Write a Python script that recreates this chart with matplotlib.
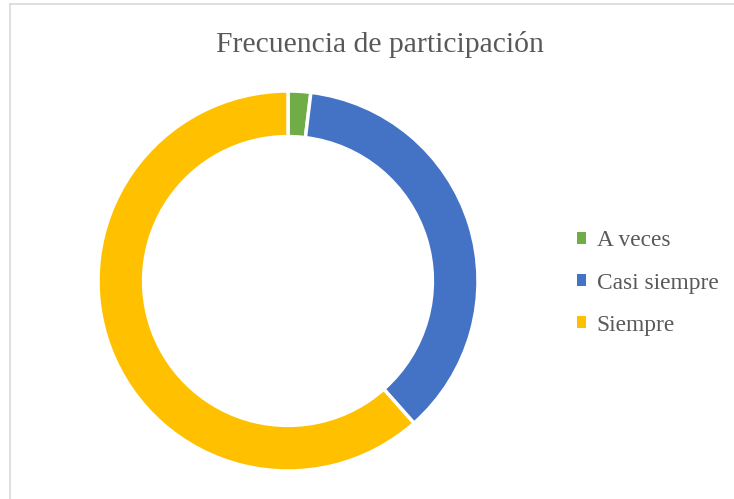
import matplotlib.pyplot as plt
from matplotlib.patches import Patch
from matplotlib.lines import Line2D

# Frecuencia de participación (estimated counts)
labels = ['A veces', 'Casi siempre', 'Siempre']
values = [1, 19, 32]
colors = ['#70AD47', '#4472C4', '#FFC000']

W, H = 734, 499
fig = plt.figure(figsize=(W / 100, H / 100), dpi=100)
fig.patch.set_facecolor('white')

# chart area border (only left and top visible in the crop)
fig.add_artist(Line2D([10 / W, 10 / W], [0, 1 - 4 / H], color='#D9D9D9', lw=1.2))
fig.add_artist(Line2D([10 / W, 1], [1 - 4 / H, 1 - 4 / H], color='#D9D9D9', lw=1.2))

cx, cy, r = 288, 281, 190
ax = fig.add_axes([(cx - r) / W, (H - cy - r) / H, 2 * r / W, 2 * r / H])
ax.pie(values, colors=colors, startangle=90, counterclock=False, radius=1,
       wedgeprops=dict(width=0.24, edgecolor='white', linewidth=2.5))
ax.set_xlim(-1, 1)
ax.set_ylim(-1, 1)
ax.set_aspect('equal')
ax.axis('off')

fig.text(380 / W, 1 - 44 / H, 'Frecuencia de participación', ha='center', va='center',
         fontsize=21.3, color='#595959', family='Liberation Serif')

handles = [Patch(facecolor=c, edgecolor='none') for c in colors]
fig.legend(handles, labels, loc='center left', bbox_to_anchor=(577 / W, 1 - 283 / H),
           frameon=False, prop={'family': 'Liberation Serif', 'size': 16.8},
           labelcolor='#595959', handlelength=0.4, handleheight=0.4,
           handletextpad=0.45, labelspacing=0.9, borderpad=0, borderaxespad=0)

plt.savefig('out.png', dpi=100, facecolor='white')
plt.close()
